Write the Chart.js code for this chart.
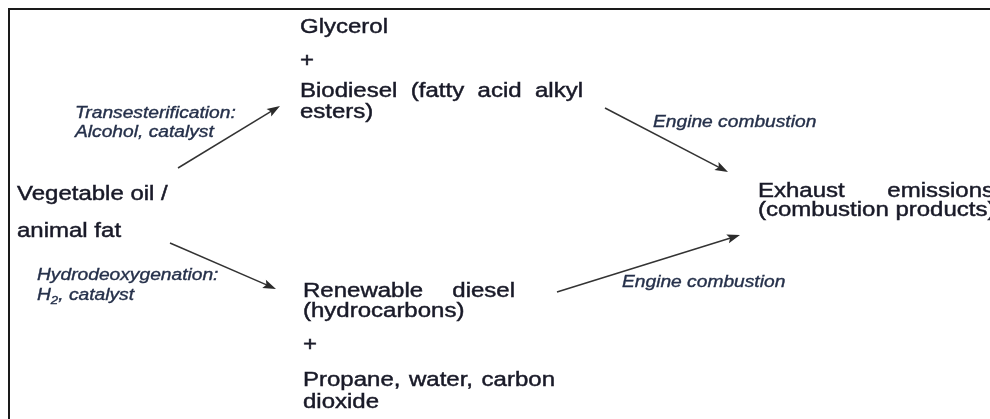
<!DOCTYPE html>
<html>
<head>
<meta charset="utf-8">
<script src="https://cdn.jsdelivr.net/npm/chart.js@4.4.1/dist/chart.umd.min.js"></script>
<style>
  html, body { margin: 0; padding: 0; background: #ffffff; }
  #wrap { width: 990px; height: 419px; }
</style>
</head>
<body>
<div id="wrap"><canvas id="c" width="990" height="419"></canvas></div>
<script>
// ---------- DATA (diagram content) ----------
const feedLines = ["Vegetable oil /", "animal fat"];
const productTopLines = ["Glycerol", "+", "Biodiesel (fatty acid alkyl", "esters)"];
const productBottomLines = ["Renewable diesel", "(hydrocarbons)", "+", "Propane, water, carbon", "dioxide"];
const outputLines = ["Exhaust emissions", "(combustion products)"];
const transLabel = ["Transesterification:", "Alcohol, catalyst"];
const hydroLabel = ["Hydrodeoxygenation:", "H_2, catalyst"];
const engineLabel = "Engine combustion";

// arrow endpoints in diagram units (x: 0..990, y: 0..419 from top)
const arrowTail = [[178, 168], [170, 243], [605, 108], [557, 292]];
const arrowTip  = [[280, 106], [276, 289], [728, 172], [740, 235]];

// ---------- LAYOUT / STYLE ----------
const FONT = '"Liberation Sans", Arial, Helvetica, sans-serif';
const STRETCH = 1.2;
const MAIN = { size: 20, italic: false, color: '#191a28', stroke: 0.45 };
const LABEL = { size: 16, italic: true, color: '#25304a', stroke: 0.35 };

const textLayout = [
  { lines: feedLines, style: MAIN, x: 17, ys: [200, 237], justify: [null, null] },
  { lines: productTopLines, style: MAIN, x: 300, ys: [33, 67, 97, 118], justify: [null, null, 583, null] },
  { lines: productBottomLines, style: MAIN, x: 303, ys: [297, 317, 351, 386, 408], justify: [515, null, null, 555, null] },
  { lines: outputLines, style: MAIN, x: 758, ys: [197, 216], justify: [994, null] },
  { lines: transLabel, style: LABEL, x: 75, ys: [118, 137], justify: [null, null] },
  { lines: hydroLabel, style: LABEL, x: 37, ys: [280, 300], justify: [null, null] },
  { lines: [engineLabel], style: LABEL, x: 653, ys: [127], justify: [null] },
  { lines: [engineLabel], style: LABEL, x: 622, ys: [287], justify: [null] }
];

function fontStr(style, size) {
  return (style.italic ? 'italic ' : '') + size + 'px ' + FONT;
}

function paint(ctx, txt, x, y, style) {
  ctx.save(); ctx.translate(x, y); ctx.scale(STRETCH, 1);
  ctx.fillText(txt, 0, 0);
  if (style.stroke) {
    ctx.lineWidth = style.stroke;
    ctx.strokeStyle = style.color;
    ctx.strokeText(txt, 0, 0);
  }
  ctx.restore();
}

function drawSegment(ctx, text, x, y, style) {
  // supports "_2" subscript marker
  let cx = x;
  const parts = text.split(/(_\d)/);
  for (const p of parts) {
    if (!p) continue;
    if (/^_\d$/.test(p)) {
      const s = Math.round(style.size * 0.7);
      ctx.font = fontStr(style, s);
      const w = ctx.measureText(p[1]).width * STRETCH;
      paint(ctx, p[1], cx, y + 4, style);
      cx += w;
    } else {
      ctx.font = fontStr(style, style.size);
      const w = ctx.measureText(p).width * STRETCH;
      paint(ctx, p, cx, y, style);
      cx += w;
    }
  }
  return cx - x;
}

const diagramPlugin = {
  id: 'diagram',
  beforeDatasetsDraw(chart) {
    const ctx = chart.ctx;
    const xs = chart.scales.x, ys = chart.scales.y;
    // frame (top and left edges)
    ctx.save();
    ctx.strokeStyle = '#1a1a1a';
    ctx.lineWidth = 2;
    ctx.beginPath();
    ctx.moveTo(xs.getPixelForValue(9), ys.getPixelForValue(419));
    ctx.lineTo(xs.getPixelForValue(9), ys.getPixelForValue(9));
    ctx.lineTo(xs.getPixelForValue(990), ys.getPixelForValue(9));
    ctx.stroke();
    ctx.restore();
  },
  afterDatasetsDraw(chart) {
    const ctx = chart.ctx;
    const xs = chart.scales.x, ys = chart.scales.y;
    // arrowheads
    ctx.save();
    ctx.fillStyle = '#2b2b2b';
    for (let i = 0; i < arrowTip.length; i++) {
      const tx = xs.getPixelForValue(arrowTip[i][0]), ty = ys.getPixelForValue(arrowTip[i][1]);
      const fx = xs.getPixelForValue(arrowTail[i][0]), fy = ys.getPixelForValue(arrowTail[i][1]);
      const a = Math.atan2(ty - fy, tx - fx);
      const L = 13, W = 4.5;
      ctx.beginPath();
      ctx.moveTo(tx, ty);
      ctx.lineTo(tx - L * Math.cos(a) + W * Math.sin(a), ty - L * Math.sin(a) - W * Math.cos(a));
      ctx.lineTo(tx - L * 0.8 * Math.cos(a), ty - L * 0.8 * Math.sin(a));
      ctx.lineTo(tx - L * Math.cos(a) - W * Math.sin(a), ty - L * Math.sin(a) + W * Math.cos(a));
      ctx.closePath();
      ctx.fill();
    }
    ctx.restore();
    // text
    ctx.save();
    ctx.textBaseline = 'alphabetic';
    ctx.textAlign = 'left';
    for (const block of textLayout) {
      ctx.fillStyle = block.style.color;
      block.lines.forEach((line, i) => {
        const x = xs.getPixelForValue(block.x);
        const y = ys.getPixelForValue(block.ys[i]);
        const jr = block.justify[i];
        if (jr != null) {
          const words = line.split(' ');
          ctx.font = fontStr(block.style, block.style.size);
          const widths = words.map(w => ctx.measureText(w).width * STRETCH);
          const total = widths.reduce((a, b) => a + b, 0);
          const right = xs.getPixelForValue(jr);
          const gap = words.length > 1 ? (right - x - total) / (words.length - 1) : 0;
          let cx = x;
          words.forEach((w, k) => { drawSegment(ctx, w, cx, y, block.style); cx += widths[k] + gap; });
        } else {
          drawSegment(ctx, line, x, y, block.style);
        }
      });
    }
    ctx.restore();
  }
};

const datasets = arrowTail.map((t, i) => {
  const h = arrowTip[i];
  // shorten line slightly so it ends inside the arrowhead
  const dx = h[0] - t[0], dy = h[1] - t[1];
  const len = Math.hypot(dx, dy);
  return {
    data: [{ x: t[0], y: t[1] }, { x: h[0] - dx / len * 9, y: h[1] - dy / len * 9 }],
    showLine: true,
    borderColor: '#333333',
    borderWidth: 1.5,
    pointRadius: 0,
    pointHoverRadius: 0,
    fill: false
  };
});

new Chart(document.getElementById('c'), {
  type: 'scatter',
  data: { datasets },
  options: {
    responsive: false,
    animation: false,
    events: [],
    layout: { padding: 0 },
    plugins: { legend: { display: false }, tooltip: { enabled: false }, title: { display: false } },
    scales: {
      x: { type: 'linear', min: 0, max: 990, display: false },
      y: { type: 'linear', min: 0, max: 419, reverse: true, display: false }
    }
  },
  plugins: [diagramPlugin]
});
</script>
</body>
</html>
